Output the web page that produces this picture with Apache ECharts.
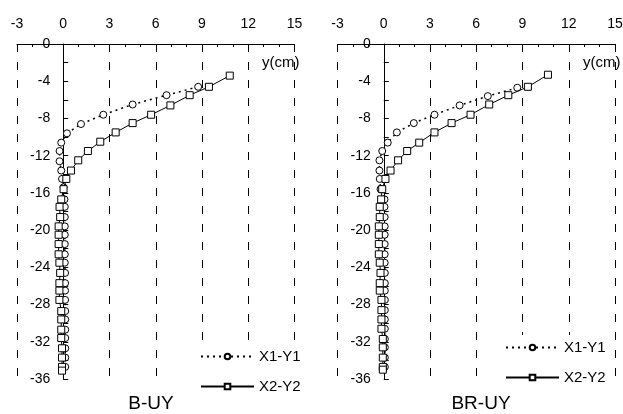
<!DOCTYPE html>
<html>
<head>
<meta charset="utf-8">
<script src="https://cdn.jsdelivr.net/npm/echarts@6/dist/echarts.min.js"></script>
<style>
html,body{margin:0;padding:0;background:#fff;}
#c{width:623px;height:414px;}
</style>
</head>
<body>
<div id="c"></div>
<script>
// ---- data ----
const xTicks = [-3, 0, 3, 6, 9, 12, 15];
const yTicks = [0, -4, -8, -12, -16, -20, -24, -28, -32, -36];
const panelTitles = ['B-UY', 'BR-UY'];
const seriesNames = ['X1-Y1', 'X2-Y2'];
const axisNameText = 'y(cm)';

// Panel B-UY
const bDepthX1 = [-4.6,-5.5,-6.5,-7.6,-8.6,-9.6,-10.6,-11.5,-12.6,-13.6,-14.5,-15.4,-16.7,-17.5,-18.6,-19.6,-20.5,-21.5,-22.6,-23.5,-24.6,-25.7,-26.5,-27.5,-28.7,-29.6,-30.7,-31.6,-32.7,-33.7,-34.7];
const bValX1   = [8.75,6.7,4.5,2.6,1.15,0.24,-0.13,-0.24,-0.24,-0.13,-0.08,0.02,0.08,0.1,0.1,0.1,0.1,0.1,0.1,0.1,0.12,0.12,0.12,0.12,0.13,0.13,0.13,0.13,0.13,0.13,0.13];
const bDepthX2 = [-3.4,-4.6,-5.5,-6.6,-7.6,-8.5,-9.5,-10.5,-11.5,-12.5,-13.6,-14.5,-15.6,-16.7,-17.5,-18.6,-19.6,-20.5,-21.5,-22.6,-23.5,-24.6,-25.7,-26.5,-27.5,-28.7,-29.6,-30.7,-31.6,-32.7,-33.7,-34.7,-35.1];
const bValX2   = [10.8,9.45,8.2,6.95,5.7,4.5,3.4,2.4,1.6,0.97,0.5,0.2,0.02,-0.13,-0.24,-0.2,-0.3,-0.3,-0.3,-0.3,-0.25,-0.2,-0.25,-0.25,-0.25,-0.13,-0.13,-0.13,-0.13,-0.08,-0.08,-0.08,-0.08];

// Panel BR-UY
const brDepthX1 = [-4.7,-5.6,-6.6,-7.6,-8.5,-9.5,-10.6,-11.5,-12.5,-13.6,-14.5,-15.6,-16.7,-17.5,-18.6,-19.6,-20.5,-21.5,-22.6,-23.5,-24.6,-25.7,-26.5,-27.5,-28.6,-29.6,-30.6,-31.7,-32.6,-33.7,-34.7];
const brValX1   = [8.66,6.75,4.92,3.29,1.95,0.85,0.26,-0.1,-0.28,-0.28,-0.26,-0.21,0.05,0.05,0.06,0.06,0.06,0.06,0.06,0.06,0.07,0.07,0.07,0.07,0.07,0.07,0.07,0.07,0.07,0.07,0.07];
const brDepthX2 = [-3.3,-4.6,-5.5,-6.5,-7.6,-8.5,-9.5,-10.6,-11.5,-12.5,-13.6,-14.5,-15.6,-16.7,-17.5,-18.6,-19.6,-20.5,-21.5,-22.6,-23.5,-24.6,-25.7,-26.5,-27.5,-28.6,-29.6,-30.6,-31.7,-32.6,-33.7,-34.7,-35.0];
const brValX2   = [10.65,9.35,8.08,6.84,5.63,4.4,3.29,2.3,1.52,0.93,0.44,0.11,-0.1,-0.17,-0.26,-0.26,-0.32,-0.32,-0.32,-0.32,-0.26,-0.21,-0.26,-0.26,-0.15,-0.15,-0.15,-0.15,-0.06,-0.06,-0.06,-0.06,-0.06];

// ---- chart ----
const FONT = '"Liberation Sans", Arial, sans-serif';
const TITLE_FONT = '"Liberation Sans", Arial, sans-serif';
const pair = (xs, ys) => xs.map((v, i) => [v, ys[i]]);

const GRID_W = 277.5;
const grids = [
  {left: 17, top: 44, width: GRID_W, height: 335, containLabel: false, outerBoundsMode: 'none'},
  {left: 337.5, top: 44, width: GRID_W, height: 335, containLabel: false, outerBoundsMode: 'none'}
];
// pixel offset that places the vertical axis at x = 0
const xMin = xTicks[0], xMax = xTicks[xTicks.length - 1];
const zeroOffset = -GRID_W * (0 - xMin) / (xMax - xMin);

function xAxisFor(i) {
  return {
    type: 'value', gridIndex: i, position: 'top',
    min: xMin, max: xMax, interval: xTicks[1] - xTicks[0],
    axisLine: {show: true, onZero: false, lineStyle: {color: '#000', width: 1}},
    axisTick: {show: true, inside: true, length: 4, lineStyle: {color: '#000'}},
    minorTick: {show: true, splitNumber: 3, length: 3, lineStyle: {color: '#000'}},
    axisLabel: {color: '#000', fontSize: 14, fontFamily: FONT, margin: 13},
    splitLine: {show: true, lineStyle: {color: '#000', width: 1, type: [8, 10]}}
  };
}
function yAxisFor(i) {
  return {
    type: 'value', gridIndex: i, position: 'left', offset: zeroOffset,
    min: yTicks[yTicks.length - 1], max: yTicks[0], interval: yTicks[0] - yTicks[1],
    axisLine: {show: true, onZero: false, lineStyle: {color: '#000', width: 1}},
    axisTick: {show: true, inside: true, length: 5, lineStyle: {color: '#000'}},
    minorTick: {show: true, splitNumber: 2, length: 5, lineStyle: {color: '#000'}},
    axisLabel: {color: '#000', fontSize: 14, fontFamily: FONT, margin: 13},
    splitLine: {show: false}
  };
}
function circleSeries(i, data) {
  return {
    name: seriesNames[0], type: 'line', xAxisIndex: i, yAxisIndex: i, data: data,
    symbol: 'circle', symbolSize: 7, showAllSymbol: true, z: 3,
    lineStyle: {color: '#000', width: 1.5, type: [2, 4]},
    itemStyle: {color: '#fff', borderColor: '#000', borderWidth: 1},
    emphasis: {disabled: true}, animation: false
  };
}
function squareSeries(i, data) {
  return {
    name: seriesNames[1], type: 'line', xAxisIndex: i, yAxisIndex: i, data: data,
    symbol: 'rect', symbolSize: 7, showAllSymbol: true, z: 4,
    lineStyle: {color: '#000', width: 1, type: 'solid'},
    itemStyle: {color: '#fff', borderColor: '#000', borderWidth: 1},
    emphasis: {disabled: true}, animation: false
  };
}
function legendFor(left, top) {
  return {
    data: seriesNames, orient: 'vertical', left: left, top: top,
    itemWidth: 53, itemHeight: 7, itemGap: 15,
    padding: [5, 4, 5, 0], backgroundColor: '#fff',
    textStyle: {color: '#000', fontSize: 15, fontFamily: FONT},
    selectedMode: false
  };
}

const chart = echarts.init(document.getElementById('c'), null, {renderer: 'canvas'});
chart.setOption({
  animation: false,
  backgroundColor: '#fff',
  grid: grids,
  xAxis: [xAxisFor(0), xAxisFor(1)],
  yAxis: [yAxisFor(0), yAxisFor(1)],
  legend: [legendFor(200, 344), legendFor(505, 335)],
  series: [
    circleSeries(0, pair(bValX1, bDepthX1)),
    squareSeries(0, pair(bValX2, bDepthX2)),
    circleSeries(1, pair(brValX1, brDepthX1)),
    squareSeries(1, pair(brValX2, brDepthX2))
  ],
  graphic: [
    {type: 'text', x: 151, y: 404, style: {text: panelTitles[0], font: '19px ' + TITLE_FONT, fill: '#000', textAlign: 'center', textVerticalAlign: 'middle'}},
    {type: 'text', x: 481, y: 404, style: {text: panelTitles[1], font: '19px ' + TITLE_FONT, fill: '#000', textAlign: 'center', textVerticalAlign: 'middle'}},
    {type: 'text', x: 262, y: 63, style: {text: axisNameText, font: '15px ' + FONT, fill: '#000', textAlign: 'left', textVerticalAlign: 'middle'}},
    {type: 'text', x: 583, y: 63, style: {text: axisNameText, font: '15px ' + FONT, fill: '#000', textAlign: 'left', textVerticalAlign: 'middle'}}
  ]
});
</script>
</body>
</html>
